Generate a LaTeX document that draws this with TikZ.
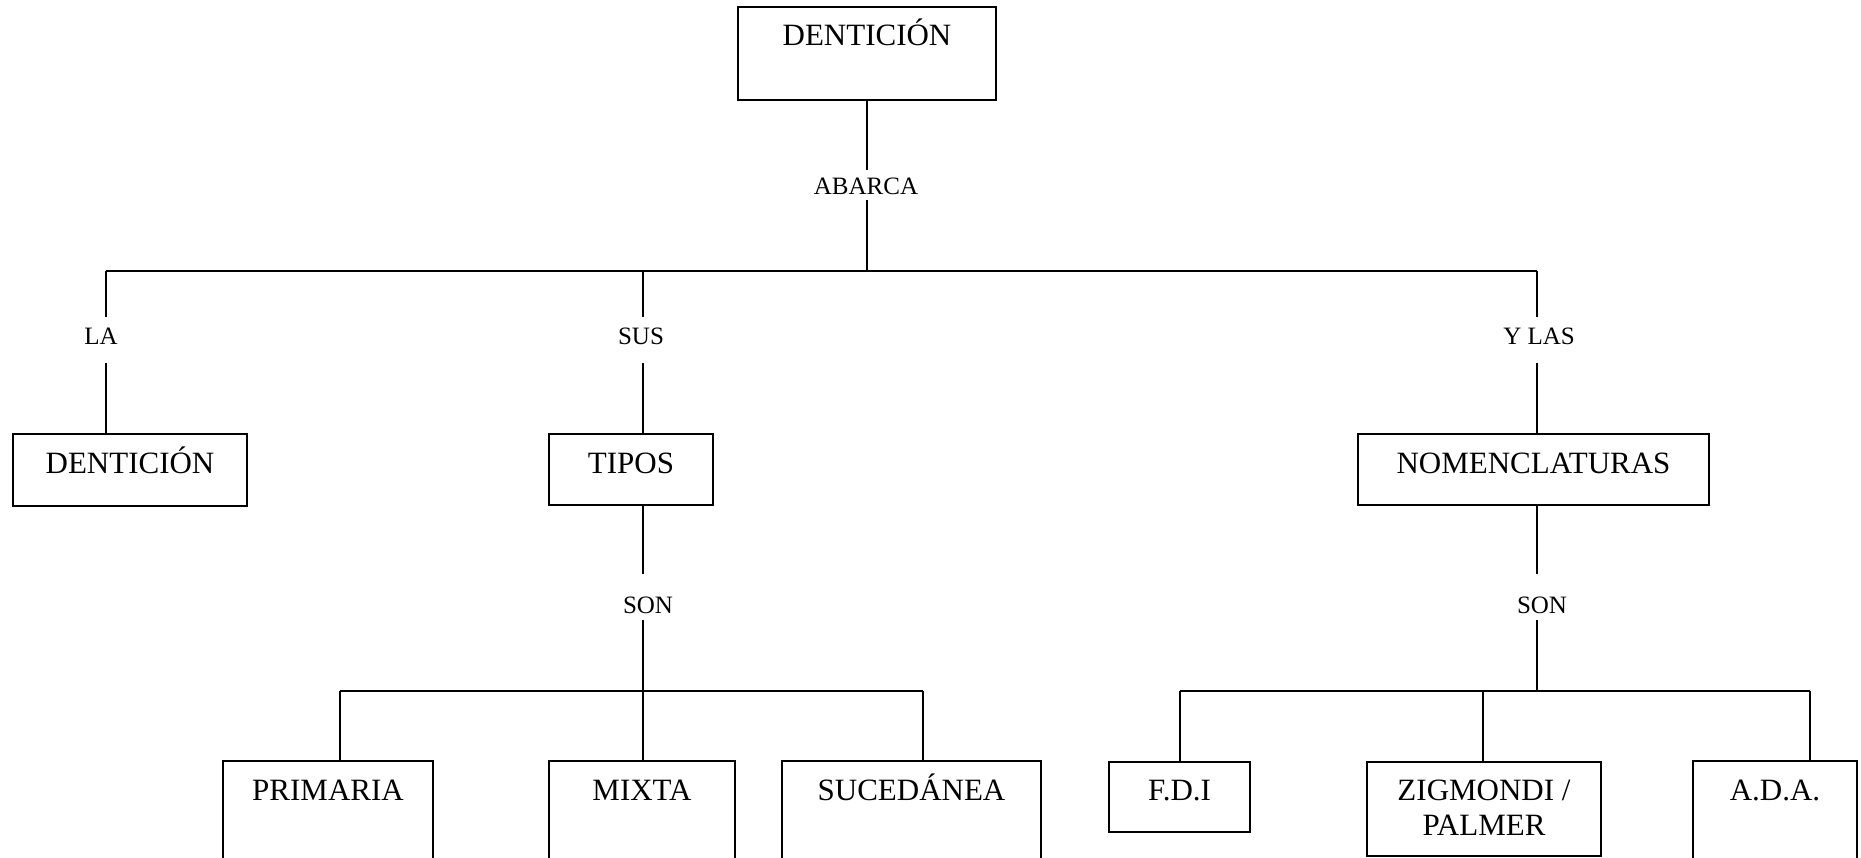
\documentclass[tikz,border=0pt]{standalone}
\usepackage{fontspec}
\setmainfont{Liberation Serif}
\begin{document}
\begin{tikzpicture}[x=1pt,y=-1pt,
  box/.style={draw,line width=1.6pt,inner sep=0pt,anchor=north,font=\fontsize{31}{35}\selectfont},
  lbl/.style={inner sep=0pt,anchor=base,font=\fontsize{25}{28}\selectfont},
  lblA/.style={lbl,text height=28pt,text depth=18pt},
  lblB/.style={lbl,text height=39pt,text depth=7pt},
  conn/.style={line width=1.6pt}]
\useasboundingbox (0,0) rectangle (1861,858);

% boxes
\node[box,minimum width=258pt,text height=39pt,text depth=54pt] (root) at (867,6) {DENTICIÓN};
\node[box,minimum width=234pt,text height=40pt,text depth=32pt] (den) at (130,433) {DENTICIÓN};
\node[box,minimum width=164pt,text height=40pt,text depth=31pt] (tipos) at (631,433) {TIPOS};
\node[box,minimum width=351pt,text height=40pt,text depth=31pt] (nom) at (1533.5,433) {NOMENCLATURAS};
\node[box,minimum width=210pt,text height=40pt,text depth=97pt] (prim) at (328,760) {PRIMARIA};
\node[box,minimum width=186pt,text height=40pt,text depth=84pt] (mixta) at (642,760) {MIXTA};
\node[box,minimum width=259pt,text height=40pt,text depth=84pt] (suc) at (911.5,760) {SUCEDÁNEA};
\node[box,minimum width=141pt,text height=39pt,text depth=31pt] (fdi) at (1179.5,761) {F.D.I};
\node[box,minimum width=234pt,text height=74pt,text depth=20pt,align=center] (zig) at (1484,761) {ZIGMONDI /\\PALMER};
\node[box,minimum width=164pt,text height=40pt,text depth=93pt] (ada) at (1775,760) {A.D.A.};

% labels
\node[lbl,text height=25pt,text depth=5pt] (abarca) at (866,195) {ABARCA};
\node[lblA] (la) at (101,345) {LA};
\node[lblA] (sus) at (641,345) {SUS};
\node[lblA] (ylas) at (1539,345) {Y LAS};
\node[lblB] (son1) at (648,613) {SON};
\node[lblB] (son2) at (1542,613) {SON};

% junctions
\coordinate (jla) at (106,271);
\coordinate (jsus) at (643,271);
\coordinate (jylas) at (1537,271);
\coordinate (b2l) at (340,691);
\coordinate (b2r) at (923,691);
\coordinate (b3l) at (1180,691);
\coordinate (b3m) at (1483,691);
\coordinate (b3r) at (1810,691);

% connectors
\draw[conn] (root.south) -- (abarca.north -| root.south);
\draw[conn] (abarca.south -| root.south) -- (root.south |- jla);
\draw[conn] (jla) -- (jylas);
\draw[conn] (jla) -- (jla |- la.north);
\draw[conn] (jla |- la.south) -- (jla |- den.north);
\draw[conn] (jsus) -- (jsus |- sus.north);
\draw[conn] (jsus |- sus.south) -- (jsus |- tipos.north);
\draw[conn] (jylas) -- (jylas |- ylas.north);
\draw[conn] (jylas |- ylas.south) -- (jylas |- nom.north);

\draw[conn] (jsus |- tipos.south) -- (jsus |- son1.north);
\draw[conn] (jsus |- son1.south) -- (jsus |- b2l);
\draw[conn] (b2l) -- (b2r);
\draw[conn] (b2l) -- (b2l |- prim.north);
\draw[conn] (jsus |- b2l) -- (jsus |- mixta.north);
\draw[conn] (b2r) -- (b2r |- suc.north);

\draw[conn] (jylas |- nom.south) -- (jylas |- son2.north);
\draw[conn] (jylas |- son2.south) -- (jylas |- b3l);
\draw[conn] (b3l) -- (b3r);
\draw[conn] (b3l) -- (b3l |- fdi.north);
\draw[conn] (b3m) -- (b3m |- zig.north);
\draw[conn] (b3r) -- (b3r |- ada.north);
\end{tikzpicture}
\end{document}
